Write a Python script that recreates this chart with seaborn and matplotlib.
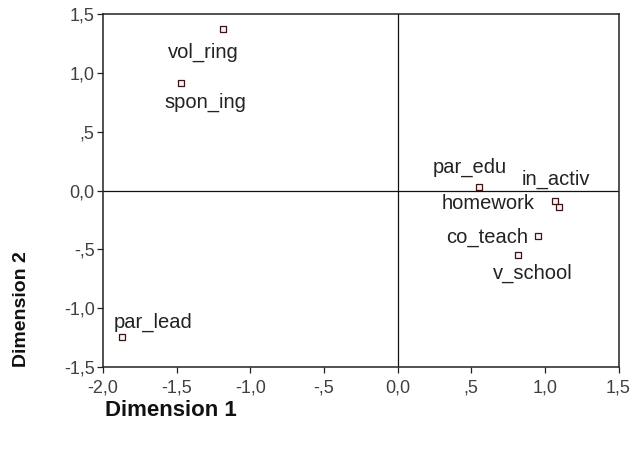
import matplotlib
matplotlib.use("Agg")
import matplotlib.pyplot as plt
import seaborn as sns
import pandas as pd
from matplotlib.ticker import FixedLocator, FixedFormatter

# Object scores on the first two dimensions
labels = ["vol_ring", "spon_ing", "par_lead", "par_edu", "in_activ",
          "homework", "co_teach", "v_school"]
dim1 = [-1.185, -1.468, -1.874, 0.556, 1.072, 1.099, 0.956, 0.820]
dim2 = [1.372, 0.916, -1.247, 0.032, -0.089, -0.138, -0.387, -0.548]

tick_values = [-2.0, -1.5, -1.0, -0.5, 0.0, 0.5, 1.0, 1.5]
x_tick_labels = ["-2,0", "-1,5", "-1,0", "-,5", "0,0", ",5", "1,0", "1,5"]
y_tick_values = [-1.5, -1.0, -0.5, 0.0, 0.5, 1.0, 1.5]
y_tick_labels = ["-1,5", "-1,0", "-,5", "0,0", ",5", "1,0", "1,5"]

df = pd.DataFrame({"label": labels, "Dimension 1": dim1, "Dimension 2": dim2})

sns.set_theme(style="white")
plt.rcParams["font.family"] = ["Liberation Sans", "DejaVu Sans"]

fig = plt.figure(figsize=(6.32, 4.5), dpi=100)
ax = fig.add_axes([103 / 632, 83 / 450, 515.5 / 632, 353 / 450])

ax.axhline(0, color="#111111", lw=0.9, zorder=1)
ax.axvline(0, color="#111111", lw=0.9, zorder=1)

sns.scatterplot(data=df, x="Dimension 1", y="Dimension 2", marker="s",
                s=22, facecolor="#fcf2f2", edgecolor="#3a1616",
                linewidth=0.9, ax=ax, zorder=3, legend=False)

# label placement relative to each point (pixels; y up)
offsets = {
    "vol_ring": (-20, -23),
    "spon_ing": (24, -20),
    "par_lead": (32, 15),
    "par_edu": (-10, 19),
    "in_activ": (0, 22),
    "homework": (-71, 3),
    "co_teach": (-51, -1),
    "v_school": (14, -18),
}
for name, x, y in zip(labels, dim1, dim2):
    dx, dy = offsets[name]
    ax.annotate(name, (x, y), xytext=(dx, dy), textcoords="offset pixels",
                ha="center", va="center", fontsize=14.5, color="#222222")

ax.set_xlim(-2.0, 1.5)
ax.set_ylim(-1.5, 1.5)
ax.xaxis.set_major_locator(FixedLocator(tick_values))
ax.xaxis.set_major_formatter(FixedFormatter(x_tick_labels))
ax.yaxis.set_major_locator(FixedLocator(y_tick_values))
ax.yaxis.set_major_formatter(FixedFormatter(y_tick_labels))
ax.tick_params(axis="both", which="major", direction="out", length=4,
               width=0.9, color="#222222", labelsize=13,
               labelcolor="#404040", bottom=True, left=True)
ax.tick_params(axis="x", pad=5)
ax.tick_params(axis="y", pad=2)

for side in ["top", "right", "bottom", "left"]:
    ax.spines[side].set_visible(True)
    ax.spines[side].set_color("#222222")
    ax.spines[side].set_linewidth(1.1)

ax.set_xlabel("")
ax.set_ylabel("")
fig.text(105 / 632, 1 - 410 / 450, "Dimension 1", ha="left", va="center",
         fontsize=16, fontweight="bold", color="#111111")
fig.text(22 / 632, 1 - 367 / 450, "Dimension 2", ha="center", va="bottom",
         rotation=90, fontsize=14, fontweight="bold", color="#111111")

fig.savefig("out.png", dpi=100, facecolor="white")
